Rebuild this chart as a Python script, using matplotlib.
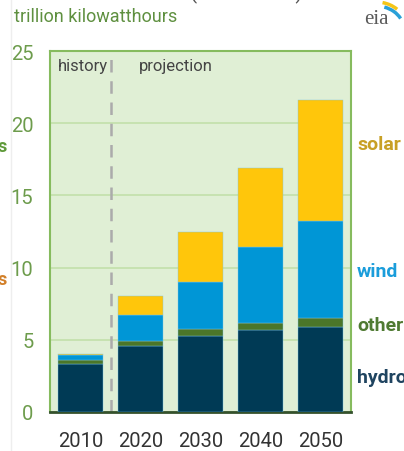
import matplotlib
matplotlib.use("Agg")
import matplotlib.pyplot as plt
from matplotlib.patches import Arc
import numpy as np

# Net electricity generation from renewables, trillion kWh
years = ["2010", "2020", "2030", "2040", "2050"]
hydro = [3.30, 4.60, 5.28, 5.65, 5.90]
other = [0.32, 0.35, 0.47, 0.50, 0.60]
wind = [0.35, 1.78, 3.23, 5.30, 6.75]
solar = [0.06, 1.32, 3.46, 5.43, 8.35]

series_names = ["hydro", "other", "wind", "solar"]
bar_colors = {"hydro": "#003a55", "other": "#4b7629", "wind": "#0096d6", "solar": "#ffc60b"}
label_colors = {"hydro": "#1f4460", "other": "#4f7a32", "wind": "#1a9ddb", "solar": "#c8a025"}
yticks = [0, 5, 10, 15, 20, 25]

NARROW = ["Liberation Sans Narrow", "Roboto", "DejaVu Sans"]

W, H = 404, 452
fig = plt.figure(figsize=(W / 100, H / 100), dpi=100)
fig.patch.set_facecolor("white")

ax = fig.add_axes([50 / W, 1 - 413 / H, 301 / W, 361 / H])
ax.set_facecolor("#e0efd5")

x = np.arange(len(years))
data = {"hydro": hydro, "other": other, "wind": wind, "solar": solar}
bottom = np.zeros(len(years))
for name in series_names:
    vals = np.array(data[name])
    ax.bar(x, vals, width=0.75, bottom=bottom, color=bar_colors[name],
           edgecolor="#7cc4e4", linewidth=0.3, zorder=3)
    bottom += vals

ax.set_xlim(-0.51, 4.51)
ax.set_ylim(0, 25)
ax.set_yticks(yticks)
ax.set_yticklabels([str(v) for v in yticks])
ax.set_xticks(x)
ax.set_xticklabels(years)
ax.yaxis.grid(True, color="#c3e0aa", linewidth=1.2, zorder=1)
ax.set_axisbelow(True)
ax.tick_params(axis="both", length=0)
ax.tick_params(axis="y", pad=12, labelcolor="#6d9c4c")
ax.tick_params(axis="x", pad=13.5, labelcolor="#333333")
for lab in ax.get_yticklabels():
    lab.set_fontfamily(NARROW)
    lab.set_fontsize(14.5)
for lab in ax.get_xticklabels():
    lab.set_fontfamily(NARROW)
    lab.set_fontsize(14.5)

for side in ["left", "top", "right"]:
    ax.spines[side].set_color("#86bb5e")
    ax.spines[side].set_linewidth(1.5)
ax.spines["bottom"].set_color("#34512c")
ax.spines["bottom"].set_linewidth(2)

# history / projection divider
ax.axvline(0.5, color="#ababab", linewidth=1.8, linestyle=(0, (5, 3.5)), zorder=2)
ax.text(0.46, 24.5, "history", ha="right", va="top", fontsize=12,
        color="#444444", family=NARROW)
ax.text(0.97, 24.5, "projection", ha="left", va="top", fontsize=12,
        color="#444444", family=NARROW)

# series labels on the right
right_labels = [("solar", 145), ("wind", 272), ("other", 326), ("hydro", 378)]
for name, py in right_labels:
    fig.text(357 / W, 1 - py / H, name, ha="left", va="center", fontsize=14,
             fontweight="bold", color=label_colors[name], family=NARROW)

# unit label
fig.text(14 / W, 1 - 17 / H, "trillion kilowatthours", ha="left", va="center",
         fontsize=13, color="#5f9040", family=NARROW)

# title clipped at top edge
fig.text(190 / W, 1 + 1 / H, "(2010-2050)", ha="left", va="baseline",
         fontsize=15, color="#555555", family=NARROW)

# clipped labels from a neighbouring panel
fig.text(-3 / W, 1 - 147 / H, "s", ha="left", va="center", fontsize=13,
         fontweight="bold", color="#5f9a3a", family=NARROW)
fig.text(-3 / W, 1 - 280 / H, "s", ha="left", va="center", fontsize=13,
         fontweight="bold", color="#d2802a", family=NARROW)

# faint separator line
fig.add_artist(plt.Line2D([11 / W, 11 / W], [0, 1], color="#eeeeee",
                          linewidth=1, transform=fig.transFigure))

# eia logo
fig.text(376 / W, 1 - 20 / H, "eia", ha="center", va="center", fontsize=15,
         color="#5a5a5a", family=["Liberation Serif", "DejaVu Serif"])
lax = fig.add_axes([350 / W, 1 - 30 / H, 54 / W, 30 / H])
lax.set_xlim(0, 54)
lax.set_ylim(0, 30)
lax.axis("off")
lax.add_patch(Arc((26, 2), 60, 50, theta1=40, theta2=75, color="#f5c518", linewidth=2.5))
lax.add_patch(Arc((26, -1), 56, 48, theta1=25, theta2=70, color="#2aa0d8", linewidth=2.5))

fig.savefig("out.png", dpi=100)
